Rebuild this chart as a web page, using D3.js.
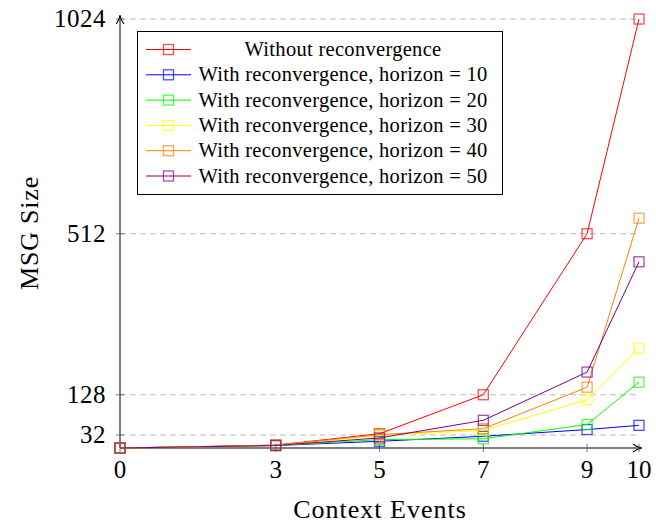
<!DOCTYPE html>
<html>
<head>
<meta charset="utf-8">
<script src="https://cdn.jsdelivr.net/npm/d3@7"></script>
<style>
  body { margin: 0; background: #fff; }
  text { font-family: "Liberation Serif", "DejaVu Serif", serif; fill: #000; }
</style>
</head>
<body>
<svg width="656" height="530"></svg>
<script>
// x-waarden en labels
var events = [0, 3, 5, 7, 9, 10];
var yTicks = [32, 128, 512, 1024];

// series
var names = [
  "Without reconvergence",
  "With reconvergence, horizon = 10",
  "With reconvergence, horizon = 20",
  "With reconvergence, horizon = 30",
  "With reconvergence, horizon = 40",
  "With reconvergence, horizon = 50"
];
var colors = ["#ff0000", "#0000ff", "#00ff00", "#ffff00", "#ff8000", "#800080"];
var noReconv = [1, 8, 35, 128, 512, 1024];
var h10 = [1, 7, 17, 29, 45, 55];
var h20 = [1, 7, 21, 23, 57, 158];
var h30 = [1, 7, 31, 43, 116, 239];
var h40 = [1, 7, 33, 47, 146, 549];
var h50 = [1, 7, 25, 67, 182, 445];
var series = [noReconv, h10, h20, h30, h40, h50];

var svg = d3.select("svg");

var x = d3.scaleLinear().domain([0, 10]).range([120, 639]);
var y = d3.scaleLinear().domain([1, 1024]).range([448, 19]);

// pijlpunt
svg.append("defs").append("marker")
    .attr("id", "arrow")
    .attr("viewBox", "0 -5 10 10")
    .attr("refX", 9).attr("refY", 0)
    .attr("markerWidth", 9).attr("markerHeight", 9)
    .attr("markerUnits", "userSpaceOnUse")
    .attr("orient", "auto")
    .append("path")
    .attr("d", "M0,-4.5 Q4,-1 10,0 Q4,1 0,4.5")
    .attr("fill", "none")
    .attr("stroke", "#000")
    .attr("stroke-width", 1.2);

// gestippelde rasterlijnen
svg.append("g").selectAll("line")
    .data(yTicks)
    .enter().append("line")
    .attr("x1", x(0)).attr("x2", x(10))
    .attr("y1", function(d) { return y(d); })
    .attr("y2", function(d) { return y(d); })
    .attr("stroke", "#bbb")
    .attr("stroke-width", 1)
    .attr("stroke-dasharray", "6,4");

// assen
svg.append("line")
    .attr("x1", x(0)).attr("x2", x(10) + 2)
    .attr("y1", y(1)).attr("y2", y(1))
    .attr("stroke", "#000").attr("stroke-width", 1)
    .attr("marker-end", "url(#arrow)");
svg.append("line")
    .attr("x1", x(0)).attr("x2", x(0))
    .attr("y1", y(1)).attr("y2", y(1024) - 3)
    .attr("stroke", "#000").attr("stroke-width", 1)
    .attr("marker-end", "url(#arrow)");

// ticks
var xt = svg.append("g");
xt.selectAll("line").data(events).enter().append("line")
    .attr("x1", function(d) { return x(d); })
    .attr("x2", function(d) { return x(d); })
    .attr("y1", y(1) - 4).attr("y2", y(1) + 4)
    .attr("stroke", "#555").attr("stroke-width", 0.8);
xt.selectAll("text").data(events).enter().append("text")
    .attr("x", function(d) { return x(d); })
    .attr("y", 478)
    .attr("text-anchor", "middle")
    .style("font-size", "25px")
    .text(function(d) { return d; });

var yt = svg.append("g");
yt.selectAll("line").data(yTicks).enter().append("line")
    .attr("x1", x(0) - 4).attr("x2", x(0) + 4)
    .attr("y1", function(d) { return y(d); })
    .attr("y2", function(d) { return y(d); })
    .attr("stroke", "#555").attr("stroke-width", 0.8);
yt.selectAll("text").data(yTicks).enter().append("text")
    .attr("x", 106)
    .attr("y", function(d) { return y(d) + 8; })
    .attr("text-anchor", "end")
    .style("font-size", "25px")
    .style("letter-spacing", "0.5px")
    .text(function(d) { return d; });

// aslabels
svg.append("text")
    .attr("x", 380).attr("y", 518)
    .attr("text-anchor", "middle")
    .style("font-size", "26px")
    .style("letter-spacing", "1px")
    .text("Context Events");
svg.append("text")
    .attr("transform", "translate(38,233) rotate(-90)")
    .attr("text-anchor", "middle")
    .style("font-size", "26px")
    .style("letter-spacing", "0.8px")
    .text("MSG Size");

// lijnen en markers
var line = d3.line()
    .x(function(d, i) { return x(events[i]); })
    .y(function(d) { return y(d); });

series.forEach(function(s, k) {
  var g = svg.append("g");
  g.append("path")
      .datum(s)
      .attr("d", line)
      .attr("fill", "none")
      .attr("stroke", colors[k])
      .attr("stroke-width", 1);
  g.selectAll("rect").data(s).enter().append("rect")
      .attr("x", function(d, i) { return x(events[i]) - 5; })
      .attr("y", function(d) { return y(d) - 5; })
      .attr("width", 10).attr("height", 10)
      .attr("fill", "none")
      .attr("stroke", colors[k])
      .attr("stroke-opacity", 0.7)
      .attr("stroke-width", 1.3);
});

// legenda
var lg = svg.append("g");
lg.append("rect")
    .attr("x", 137.5).attr("y", 31.5)
    .attr("width", 365).attr("height", 163)
    .attr("fill", "#fff")
    .attr("stroke", "#000")
    .attr("stroke-width", 1);
var rows = lg.selectAll(".row").data(names).enter().append("g")
    .attr("class", "row")
    .attr("transform", function(d, i) { return "translate(0," + (49.5 + i * 25.3) + ")"; });
rows.append("line")
    .attr("x1", 146).attr("x2", 191)
    .attr("stroke", function(d, i) { return colors[i]; })
    .attr("stroke-width", 1);
rows.append("rect")
    .attr("x", 163.5).attr("y", -5)
    .attr("width", 10).attr("height", 10)
    .attr("fill", "none")
    .attr("stroke", function(d, i) { return colors[i]; })
    .attr("stroke-opacity", 0.7)
    .attr("stroke-width", 1.3);
rows.append("text")
    .attr("x", 343).attr("y", 6.5)
    .attr("text-anchor", "middle")
    .style("font-size", "20.5px")
    .style("letter-spacing", "0.3px")
    .text(function(d) { return d; });
</script>
</body>
</html>
